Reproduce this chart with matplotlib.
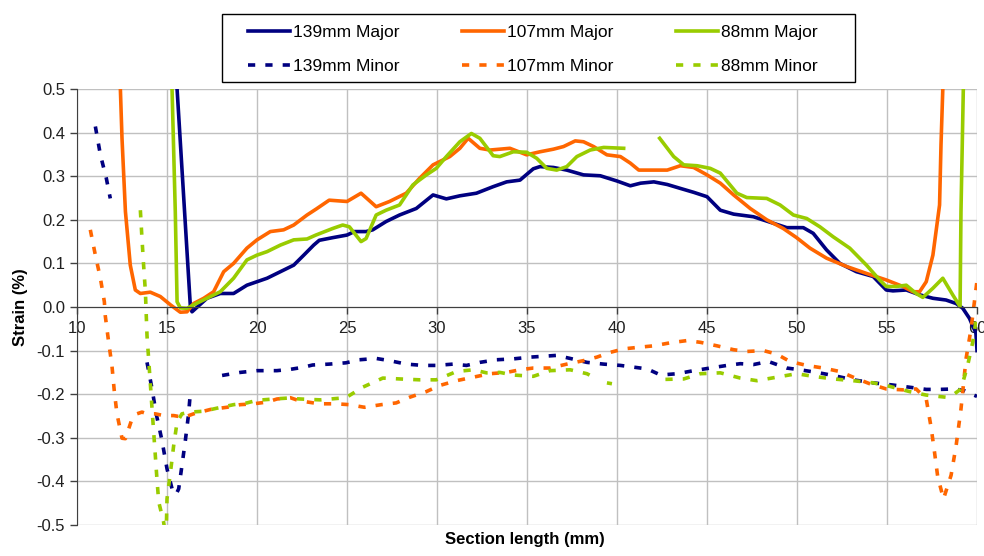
import numpy as np
import matplotlib
matplotlib.use("Agg")
import matplotlib.pyplot as plt
from matplotlib.patches import Rectangle
from matplotlib.ticker import FuncFormatter

plt.rcParams['font.family'] = ['Liberation Sans', 'DejaVu Sans']

nan = np.nan

# 139mm Major
x139_major = [15.53, 15.56, 16.3, 16.39, 17.22, 17.96, 18.7, 19.44, 20.0, 20.56, 21.3, 22.04,
              22.6, 23.15, 23.46, 24.2, 25.0, 25.41, 26.06, 26.43, 27.17, 27.92, 28.85, 29.78,
              30.52, 31.27, 32.19, 33.12, 33.87, 34.61, 35.35, 35.72, 36.47, 37.21, 38.14,
              39.07, 40.0, 40.74, 41.31, 42.05, 42.79, 43.52, 44.26, 45.0, 45.74, 46.48, 47.58,
              48.69, 49.43, 50.35, 50.9, 51.64, 52.38, 53.3, 54.23, 54.96, 55.33, 56.07, 56.81,
              57.55, 58.28, 58.84, 59.21, 59.58, 59.94, 60.0]
y139_major = [0.55, 0.5, 0.0, -0.011, 0.02, 0.031, 0.031, 0.05, 0.058, 0.066, 0.081, 0.096,
              0.119, 0.142, 0.153, 0.159, 0.165, 0.173, 0.173, 0.177, 0.196, 0.211, 0.226, 0.257,
              0.248, 0.255, 0.261, 0.276, 0.287, 0.291, 0.317, 0.322, 0.32, 0.314, 0.303,
              0.301, 0.289, 0.278, 0.284, 0.287, 0.281, 0.272, 0.263, 0.253, 0.222, 0.213, 0.207,
              0.192, 0.182, 0.182, 0.169, 0.131, 0.1, 0.081, 0.07, 0.039, 0.037, 0.039, 0.028,
              0.02, 0.016, 0.008, -0.003, -0.026, -0.06, -0.1]

# 107mm Major
x107_major = [12.38, 12.41, 12.5, 12.69, 12.96, 13.24, 13.52, 14.07, 14.63, 15.19, 15.74, 16.11,
              16.48, 17.04, 17.59, 18.15, 18.7, 19.44, 20.0, 20.74, 21.48, 22.04, 22.78, 23.3,
              24.01, 25.0, 25.78, 26.62, 27.36, 28.29, 29.03, 29.78, 30.71, 31.27, 31.73, 32.38,
              32.94, 34.05, 34.98, 35.72, 36.47, 37.03, 37.68, 38.14, 38.7, 39.44, 40.19, 40.74,
              41.21, 42.05, 42.79, 43.52, 44.26, 45.0, 45.74, 46.48, 47.4, 48.32, 49.24, 49.98,
              50.72, 51.64, 52.75, 53.86, 54.96, 55.89, 56.44, 56.81, 57.18, 57.55, 57.92, 58.0,
              58.1, 58.12]
y107_major = [0.55, 0.5, 0.387, 0.219, 0.096, 0.039, 0.031, 0.034, 0.024, 0.005, -0.012, -0.011,
              0.008, 0.02, 0.035, 0.081, 0.1, 0.135, 0.154, 0.173, 0.177, 0.188, 0.211, 0.225,
              0.245, 0.242, 0.261, 0.23, 0.242, 0.261, 0.295, 0.326, 0.345, 0.364, 0.387, 0.364,
              0.36, 0.364, 0.349, 0.356, 0.362, 0.368, 0.381, 0.379, 0.368, 0.349, 0.345, 0.33,
              0.314, 0.314, 0.314, 0.324, 0.32, 0.303, 0.284, 0.257, 0.226, 0.2, 0.18, 0.159,
              0.135, 0.112, 0.093, 0.077, 0.062, 0.047, 0.035, 0.035, 0.058, 0.119, 0.234, 0.372,
              0.5, 0.55]

# 88mm Major
x88_major = [15.27, 15.28, 15.46, 15.56, 15.74, 16.11, 16.48, 17.22, 17.96, 18.7, 19.44, 20.0,
             20.56, 21.3, 22.04, 22.78, 23.27, 24.2, 24.76, 25.13, 25.78, 26.06, 26.62, 27.17,
             27.92, 28.66, 29.41, 29.96, 30.52, 31.27, 31.91, 32.38, 33.12, 33.49, 34.24, 34.98,
             35.54, 36.1, 36.65, 37.21, 37.77, 38.51, 39.26, 39.81, 40.37, 41.3,
             42.37, 43.15, 43.71, 44.45, 45.18, 45.74, 46.66, 47.21, 48.32, 49.06, 49.8, 50.54,
             51.27, 52.01, 52.93, 53.86, 54.59, 54.96, 55.52, 56.07, 56.62, 56.99, 57.55, 58.1,
             58.65, 59.06, 59.11, 59.24, 59.25]
y88_major = [0.55, 0.5, 0.219, 0.012, -0.002, -0.003, 0.005, 0.02, 0.035, 0.066, 0.108, 0.119,
             0.127, 0.142, 0.154, 0.156, 0.165, 0.18, 0.188, 0.184, 0.15, 0.157, 0.211, 0.222,
             0.234, 0.28, 0.303, 0.318, 0.345, 0.379, 0.398, 0.387, 0.347, 0.345, 0.356, 0.355,
             0.341, 0.318, 0.314, 0.322, 0.345, 0.36, 0.366, 0.365, 0.364, nan,
             0.387, 0.345, 0.326, 0.324, 0.318, 0.307, 0.261, 0.251, 0.249, 0.234, 0.211, 0.203,
             0.184, 0.161, 0.135, 0.096, 0.062, 0.047, 0.047, 0.05, 0.031, 0.022, 0.043, 0.066,
             0.028, 0.001, 0.219, 0.5, 0.55]

# 139mm Minor
x139_minor = [11.02, 11.3, 11.63, 11.85, 12.8,
              13.89, 14.17, 14.4, 14.72, 15.0, 15.3, 15.5, 15.65, 15.83, 16.02, 16.2, 16.3, 17.2,
              18.06, 19.07, 20.0, 21.1, 21.85, 22.6, 23.09, 24.01, 24.94, 25.69, 26.62, 27.36,
              28.29, 29.22, 29.96, 30.89, 31.64, 32.38, 33.31, 34.24, 35.17, 35.91, 36.65, 37.4,
              38.33, 39.26, 40.19, 40.93, 41.68, 42.42, 43.34, 44.26, 45.18, 46.11, 46.85, 47.58,
              48.41, 49.43, 50.17, 51.09, 52.01, 53.12, 54.23, 55.33, 56.25, 57.18, 57.92, 58.75,
              59.3, 59.76, 60.0]
y139_minor = [0.414, 0.349, 0.295, 0.249, nan,
              -0.127, -0.188, -0.245, -0.306, -0.371, -0.42, -0.43, -0.417, -0.364, -0.306,
              -0.245, -0.195, nan,
              -0.157, -0.15, -0.146, -0.146, -0.143, -0.138, -0.133, -0.131, -0.128, -0.121,
              -0.118, -0.123, -0.131, -0.134, -0.134, -0.131, -0.134, -0.127, -0.121, -0.119,
              -0.115, -0.113, -0.111, -0.118, -0.127, -0.131, -0.134, -0.138, -0.142, -0.156,
              -0.153, -0.146, -0.14, -0.134, -0.13, -0.132, -0.125, -0.14, -0.144, -0.15, -0.157,
              -0.167, -0.174, -0.179, -0.184, -0.189, -0.189, -0.188, -0.192, -0.201, -0.205]

# 107mm Minor
x107_minor = [10.74, 11.02, 11.3, 11.52, 11.57, 11.76, 11.94, 12.07, 12.22, 12.5, 12.69, 13.06,
              13.33, 13.61, 13.89, 14.35, 14.81, 15.37, 15.93, 16.48, 17.41, 18.33, 19.07, 19.81,
              20.56, 21.11, 21.85, 22.34, 23.46, 24.39, 25.13, 25.97, 26.9, 27.73, 28.48, 29.41,
              30.15, 31.08, 32.01, 32.94, 33.87, 34.61, 35.35, 36.28, 37.21, 38.14, 38.88, 39.63,
              40.37, 41.3, 42.05, 42.97, 43.89, 44.63, 45.55, 46.48, 47.21, 48.14, 48.87, 49.61,
              50.54, 51.46, 52.38, 53.12, 54.04, 54.96, 55.89, 56.62, 57.18, 57.45, 57.64, 57.82,
              58.14, 58.56, 58.84, 59.11, 59.39, 59.67, 60.0]
y107_minor = [0.177, 0.119, 0.066, 0.012, -0.02, -0.081, -0.134, -0.192, -0.245, -0.301, -0.302,
              -0.256, -0.245, -0.241, -0.245, -0.245, -0.249, -0.249, -0.253, -0.245, -0.235,
              -0.23, -0.224, -0.222, -0.218, -0.211, -0.208, -0.215, -0.222, -0.222, -0.224,
              -0.23, -0.224, -0.22, -0.207, -0.194, -0.18, -0.169, -0.161, -0.153, -0.15, -0.144,
              -0.14, -0.14, -0.131, -0.123, -0.115, -0.104, -0.096, -0.092, -0.089, -0.082,
              -0.077, -0.081, -0.089, -0.098, -0.102, -0.1, -0.108, -0.125, -0.134, -0.14, -0.148,
              -0.161, -0.176, -0.188, -0.19, -0.188, -0.211, -0.276, -0.333, -0.39, -0.44, -0.386,
              -0.318, -0.234, -0.119, -0.05, 0.06]

# 88mm Minor
x88_minor = [13.52, 13.61, 13.7, 13.8, 13.89, 13.98, 14.07, 14.17, 14.26, 14.35, 14.44, 14.54,
             14.81, 14.95, 15.0, 15.19, 15.37, 15.56, 15.83, 16.3, 17.04, 17.78, 18.7, 19.44,
             20.0, 20.93, 21.67, 22.41, 23.52, 24.94, 25.87, 26.99, 27.92, 29.03, 29.96, 30.33,
             31.08, 32.01, 32.75, 33.49, 34.24, 35.35, 36.28, 37.4, 38.33, 38.61, 39.0,
             39.44, 39.72, 41.2,
             42.69, 43.71, 44.63, 45.74, 46.85, 47.77, 48.87, 49.98, 50.9, 52.01, 53.12, 54.23,
             55.15, 56.25, 57.18, 58.28, 58.75, 59.11, 59.48, 59.76, 59.95]
y88_minor = [0.222, 0.157, 0.096, 0.035, -0.066, -0.119, -0.173, -0.234, -0.287, -0.34, -0.394,
             -0.447, -0.493, -0.53, -0.44, -0.38, -0.318, -0.264, -0.245, -0.241, -0.239, -0.232,
             -0.224, -0.22, -0.214, -0.211, -0.209, -0.211, -0.213, -0.208, -0.184, -0.163,
             -0.165, -0.167, -0.167, -0.161, -0.148, -0.144, -0.151, -0.15, -0.156, -0.159,
             -0.146, -0.144, -0.153, -0.159, nan,
             -0.174, -0.176, nan,
             -0.166, -0.165, -0.153, -0.151, -0.163, -0.169, -0.161, -0.153, -0.159, -0.165,
             -0.169, -0.174, -0.182, -0.194, -0.202, -0.207, -0.199, -0.188, -0.134, -0.081,
             -0.03]

navy = '#000080'
orange = '#FF6600'
green = '#99CC00'

fig = plt.figure(figsize=(9.84, 5.56), dpi=100)
ax = fig.add_axes([77 / 984, 1 - 525 / 556, 900 / 984, 436 / 556])

lw = 2.6
dash = (2.0, 2.8)
ax.plot(x139_major, y139_major, color=navy, lw=lw, label='139mm Major')
ax.plot(x139_minor, y139_minor, color=navy, lw=lw, ls=(0, dash), label='139mm Minor')
ax.plot(x107_major, y107_major, color=orange, lw=lw, label='107mm Major')
ax.plot(x107_minor, y107_minor, color=orange, lw=lw, ls=(0, dash), label='107mm Minor')
ax.plot(x88_major, y88_major, color=green, lw=lw, label='88mm Major')
ax.plot(x88_minor, y88_minor, color=green, lw=lw, ls=(0, dash), label='88mm Minor')

ax.set_xlim(10, 60)
ax.set_ylim(-0.5, 0.5)
ax.set_xticks(np.arange(10, 61, 5))
ax.set_yticks(np.linspace(-0.5, 0.5, 11))
ax.yaxis.set_major_formatter(FuncFormatter(lambda v, p: '0.0' if abs(v) < 1e-9 else f'{v:.1f}'))
ax.grid(True, color='#C0C0C0', lw=1.0)
ax.set_axisbelow(True)

ax.spines['bottom'].set_position(('data', 0))
ax.spines['bottom'].set_color('#404040')
ax.spines['left'].set_color('#404040')
ax.spines['top'].set_visible(False)
ax.spines['right'].set_visible(False)
ax.tick_params(axis='both', direction='out', length=5, width=1, color='#404040',
               labelsize=12, labelcolor='#202020')
ax.tick_params(axis='x', pad=5)

ax.set_xlabel('Section length (mm)', fontsize=12, fontweight='bold')
ax.xaxis.set_label_coords(0.498, -0.015)
ax.set_ylabel('Strain (%)', fontsize=12, fontweight='bold')
ax.yaxis.set_label_coords(-0.055, 0.5)

# legend box drawn separately so its padding matches the original
fig.patches.append(Rectangle((222 / 984, 1 - 82 / 556), 633 / 984, 68 / 556,
                             transform=fig.transFigure, fill=False, ec='black', lw=1.0))
leg = fig.legend(loc='upper left', bbox_to_anchor=(248 / 984, 1 - 25 / 556), ncol=3,
                 fontsize=12.5, frameon=False, borderpad=0, borderaxespad=0,
                 handlelength=2.4, handletextpad=0.2, columnspacing=3.6,
                 labelspacing=1.08)

fig.savefig('out.png', dpi=100)
